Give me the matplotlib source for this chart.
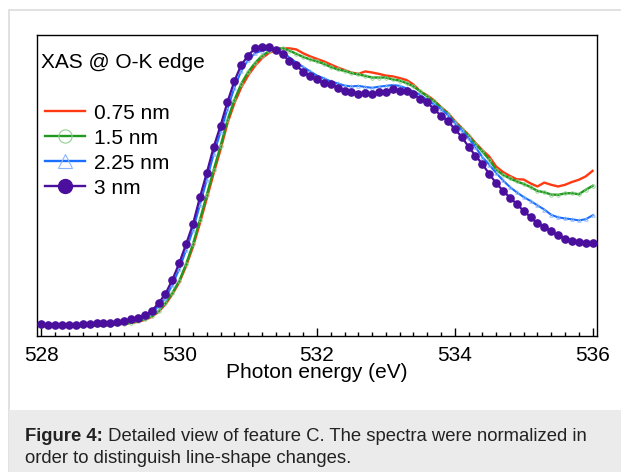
import numpy as np
import matplotlib
matplotlib.use("Agg")
import matplotlib.pyplot as plt
from matplotlib.lines import Line2D
from matplotlib.patches import Rectangle

plt.rcParams['font.family'] = ['Liberation Sans', 'DejaVu Sans']

# photon energy grid, 0.1 eV steps
energy = np.linspace(528.0, 536.0, 81)

# normalized XAS intensity
xas_075 = [-0.004, -0.004, -0.004, -0.004, -0.004, -0.004, -0.004, -0.002, -0.002, -0.002,
           0.000, 0.002, 0.004, 0.007, 0.011, 0.018, 0.029, 0.047, 0.074, 0.110,
           0.153, 0.212, 0.281, 0.365, 0.455, 0.545, 0.631, 0.725, 0.797, 0.854,
           0.897, 0.932, 0.959, 0.978, 0.989, 0.995, 0.995, 0.991, 0.977, 0.966,
           0.957, 0.948, 0.937, 0.926, 0.917, 0.908, 0.903, 0.912, 0.908, 0.903,
           0.897, 0.894, 0.888, 0.881, 0.865, 0.840, 0.826, 0.808, 0.784, 0.763,
           0.734, 0.709, 0.684, 0.655, 0.629, 0.606, 0.570, 0.550, 0.536, 0.524,
           0.523, 0.509, 0.498, 0.512, 0.504, 0.498, 0.504, 0.514, 0.522, 0.534,
           0.554]
xas_15 = [-0.004, -0.004, -0.004, -0.004, -0.004, -0.004, -0.004, -0.002, -0.002, -0.002,
          0.000, 0.002, 0.004, 0.007, 0.013, 0.020, 0.031, 0.050, 0.079, 0.115,
          0.158, 0.219, 0.291, 0.378, 0.468, 0.558, 0.644, 0.737, 0.809, 0.867,
          0.910, 0.942, 0.968, 0.984, 0.993, 0.995, 0.987, 0.975, 0.964, 0.955,
          0.948, 0.939, 0.928, 0.919, 0.914, 0.906, 0.901, 0.896, 0.890, 0.890,
          0.890, 0.883, 0.879, 0.870, 0.858, 0.840, 0.822, 0.804, 0.782, 0.759,
          0.730, 0.705, 0.680, 0.651, 0.624, 0.595, 0.559, 0.540, 0.527, 0.516,
          0.507, 0.496, 0.482, 0.477, 0.469, 0.468, 0.473, 0.474, 0.470, 0.486,
          0.500]
xas_225 = [0.001, -0.002, -0.002, -0.002, -0.002, -0.003, 0.000, 0.002, 0.003, 0.004,
           0.005, 0.007, 0.011, 0.016, 0.022, 0.029, 0.043, 0.067, 0.097, 0.144,
           0.201, 0.270, 0.342, 0.432, 0.522, 0.615, 0.694, 0.777, 0.853, 0.914,
           0.953, 0.977, 0.987, 0.991, 0.989, 0.982, 0.962, 0.944, 0.928, 0.912,
           0.897, 0.887, 0.876, 0.869, 0.861, 0.858, 0.860, 0.856, 0.853, 0.857,
           0.860, 0.863, 0.860, 0.851, 0.840, 0.827, 0.809, 0.793, 0.777, 0.755,
           0.727, 0.701, 0.671, 0.640, 0.604, 0.576, 0.547, 0.520, 0.496, 0.477,
           0.460, 0.446, 0.430, 0.415, 0.396, 0.387, 0.383, 0.380, 0.376, 0.380,
           0.394]
xas_3 = [0.003, 0.000, 0.000, 0.000, 0.000, -0.002, 0.003, 0.004, 0.005, 0.006,
         0.007, 0.010, 0.014, 0.020, 0.024, 0.034, 0.050, 0.078, 0.112, 0.162,
         0.222, 0.291, 0.363, 0.459, 0.547, 0.640, 0.717, 0.802, 0.877, 0.935,
         0.969, 0.995, 0.999, 0.999, 0.989, 0.973, 0.949, 0.935, 0.909, 0.896,
         0.884, 0.869, 0.866, 0.854, 0.843, 0.839, 0.831, 0.833, 0.831, 0.838,
         0.838, 0.849, 0.843, 0.843, 0.831, 0.812, 0.801, 0.776, 0.753, 0.734,
         0.704, 0.677, 0.641, 0.609, 0.579, 0.543, 0.510, 0.483, 0.458, 0.435,
         0.410, 0.388, 0.366, 0.352, 0.336, 0.322, 0.310, 0.302, 0.300, 0.294,
         0.294]

labels = ["0.75 nm", "1.5 nm", "2.25 nm", "3 nm"]
c_red, c_green, c_blue, c_purple = "#ff3a12", "#1f9a1f", "#1a6fff", "#4a0f9c"

fig = plt.figure(figsize=(6.21, 4.72), dpi=100)
W, H = 621, 472

# panel frame and caption box
fig.patches.append(Rectangle((9 / W, -0.1), 1, 1.1 - 10 / H, transform=fig.transFigure,
                             facecolor="white", edgecolor="#dcdcdc", lw=1.2, zorder=-3))
fig.patches.append(Rectangle((9 / W, 0), 1, 1 - 410 / H, transform=fig.transFigure,
                             facecolor="#ebebeb", edgecolor="none", zorder=-2))

ax = fig.add_axes([37 / W, 1 - 336 / H, 560 / W, 301 / H])

ax.plot(energy, xas_075, color=c_red, lw=1.7, zorder=3)
ax.plot(energy, xas_15, color=c_green, lw=1.7, marker="o", ms=2.5, mfc="none",
        mec="#8fd08f", mew=0.6, zorder=4)
ax.plot(energy, xas_225, color=c_blue, lw=1.5, marker="^", ms=2.5, mfc="none",
        mec="#8ab4ff", mew=0.6, zorder=5)
ax.plot(energy, xas_3, color=c_purple, lw=1.6, marker="o", ms=5.2, mfc=c_purple,
        mec=c_purple, zorder=6)

ax.set_xlim(527.935, 536.065)
ax.set_ylim(-0.04, 1.043)
ax.set_xticks([528, 530, 532, 534, 536])
ax.set_xticks(np.arange(528, 536.01, 0.2), minor=True)
ax.set_yticks([])
ax.tick_params(axis="x", which="both", direction="in", top=False, labelsize=15, pad=7)
ax.tick_params(axis="x", which="major", length=5.5, width=1)
ax.tick_params(axis="x", which="minor", length=3, width=1)
for s in ax.spines.values():
    s.set_linewidth(1)
ax.set_xlabel("Photon energy (eV)", fontsize=15, labelpad=-1)

ax.text(0.007, 0.907, "XAS @ O-K edge", transform=ax.transAxes, fontsize=15,
        ha="left", va="center")

handles = [
    Line2D([], [], color=c_red, lw=1.7),
    Line2D([], [], color=c_green, lw=1.7, marker="o", ms=9.5, mfc="none", mec="#8fd08f", mew=0.8),
    Line2D([], [], color=c_blue, lw=1.7, marker="^", ms=9.5, mfc="none", mec="#8ab4ff", mew=0.8),
    Line2D([], [], color=c_purple, lw=1.7, marker="o", ms=10, mfc=c_purple, mec=c_purple),
]
ax.legend(handles, labels, loc="upper left", bbox_to_anchor=(0.0, 0.80), frameon=False,
          fontsize=15, handlelength=1.9, handletextpad=0.45, labelspacing=0.29,
          borderpad=0.2, borderaxespad=0.2)

# caption, bold lead-in followed by normal text on the same baseline
cap_fs = 13.3
cap_y1 = 1 - 441 / H
t1 = fig.text(25 / W, cap_y1, "Figure 4:", fontsize=cap_fs, fontweight="bold",
              ha="left", va="baseline", color="#222222")
fig.canvas.draw()
bb = t1.get_window_extent()
fig.text(bb.x1 / (fig.dpi * fig.get_figwidth()), cap_y1,
         " Detailed view of feature C. The spectra were normalized in",
         fontsize=cap_fs, ha="left", va="baseline", color="#222222")
fig.text(25 / W, 1 - 463 / H, "order to distinguish line-shape changes.", fontsize=cap_fs,
         ha="left", va="baseline", color="#222222")

fig.savefig("out.png", dpi=100)
